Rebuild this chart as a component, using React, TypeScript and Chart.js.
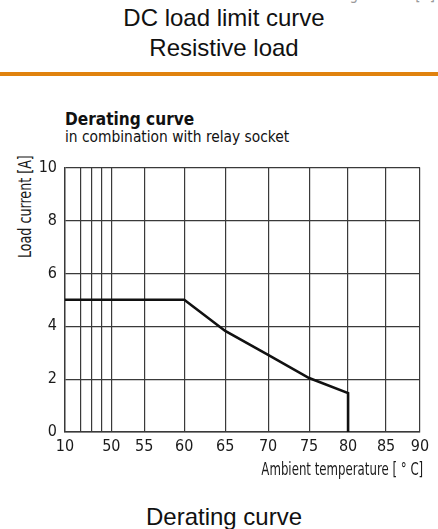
import React, { useEffect, useRef } from "react";
import { Chart, registerables } from "chart.js";

Chart.register(...registerables);

// ---- data ----
const xTickTemps = [10, 20, 30, 40, 50, 55, 60, 65, 70, 75, 80, 85, 90];
const xTickLabels = ["10", "", "", "", "50", "55", "60", "65", "70", "75", "80", "85", "90"];
const yTickValues = [0, 2, 4, 6, 8, 10];
const tempC = [10, 60, 65, 70, 75, 80, 80];
const loadA = [5, 5, 3.82, 2.92, 2.04, 1.47, 0];

// broken, hand-drawn x axis: 10..50 °C compressed at the left; stops where each
// grid temperature sits on the drawn axis (in degree-equivalent units)
const axisPos = [44, 46, 47.5, 48.8, 50, 54.27, 59.45, 64.76, 70.32, 75.63, 80.68, 85.6, 90];
function toAxis(t: number): number {
  for (let i = 0; i < xTickTemps.length - 1; i++) {
    const a = xTickTemps[i], b = xTickTemps[i + 1];
    if (t >= a && t <= b) {
      return axisPos[i] + ((t - a) / (b - a)) * (axisPos[i + 1] - axisPos[i]);
    }
  }
  return t;
}

const NARROW = "'Liberation Sans Narrow', 'DejaVu Sans Condensed', 'Roboto Condensed', 'Arial Narrow', sans-serif";
const GRID = "#3a3a3a";

export default function App() {
  const ref = useRef<HTMLCanvasElement | null>(null);

  useEffect(() => {
    if (!ref.current) return;
    const chart = new Chart(ref.current, {
      type: "line",
      data: {
        datasets: [
          {
            data: tempC.map((t, i) => ({ x: toAxis(t), y: loadA[i] })),
            borderColor: "#111",
            borderWidth: 2.6,
            pointRadius: 0,
            tension: 0,
            fill: false,
          },
        ],
      },
      options: {
        responsive: false,
        animation: false,
        devicePixelRatio: 1,
        layout: { padding: { left: 0, right: 18, top: 16, bottom: 0 } },
        plugins: { legend: { display: false }, tooltip: { enabled: false } },
        scales: {
          x: {
            type: "linear",
            min: axisPos[0],
            max: axisPos[axisPos.length - 1],
            afterBuildTicks: (s: any) => {
              s.ticks = axisPos.map((v) => ({ value: v }));
            },
            afterFit: (s: any) => {
              s.height = 48;
            },
            ticks: {
              autoSkip: false,
              maxRotation: 0,
              padding: 5,
              color: "#1a1a1a",
              font: { family: NARROW, size: 16 },
              callback: (_v: any, i: number) => xTickLabels[i],
            },
            grid: { color: GRID, lineWidth: 1.2, drawTicks: false },
            border: { color: GRID, width: 1.4 },
          },
          y: {
            type: "linear",
            min: 0,
            max: 10,
            afterBuildTicks: (s: any) => {
              s.ticks = yTickValues.map((v) => ({ value: v }));
            },
            afterFit: (s: any) => {
              s.width = 65;
            },
            ticks: {
              padding: 8,
              color: "#1a1a1a",
              font: { family: NARROW, size: 16 },
            },
            grid: { color: GRID, lineWidth: 1.2, drawTicks: false },
            border: { color: GRID, width: 1.4 },
          },
        },
      },
    });
    return () => chart.destroy();
  }, []);

  const base: React.CSSProperties = { position: "absolute", margin: 0, whiteSpace: "nowrap" };

  return (
    <div
      style={{
        position: "absolute",
        left: 0,
        top: 0,
        width: 438,
        height: 529,
        background: "#fff",
        overflow: "hidden",
        color: "#111",
      }}
    >
      <div
        style={{
          ...base,
          right: 3,
          top: -12,
          font: `15px ${NARROW}`,
          lineHeight: "15px",
          color: "#9a9a9a",
        }}
      >
        Switching current [A]
      </div>
      <div
        style={{
          ...base,
          left: 0,
          width: 448,
          top: 6,
          textAlign: "center",
          font: "24px 'Liberation Sans', Arial, sans-serif",
          lineHeight: "24px",
        }}
      >
        DC load limit curve
      </div>
      <div
        style={{
          ...base,
          left: 0,
          width: 448,
          top: 36,
          textAlign: "center",
          font: "24px 'Liberation Sans', Arial, sans-serif",
          lineHeight: "24px",
        }}
      >
        Resistive load
      </div>
      <div style={{ position: "absolute", left: 0, top: 72, width: 438, height: 4, background: "#E0820E" }} />
      <div
        style={{
          ...base,
          left: 65,
          top: 110,
          font: `bold 18px ${NARROW}`,
          lineHeight: "18px",
          transform: "scaleX(0.95)",
          transformOrigin: "0 0",
        }}
      >
        Derating curve
      </div>
      <div
        style={{
          ...base,
          left: 65,
          top: 129,
          font: `16px ${NARROW}`,
          lineHeight: "16px",
          transform: "scaleX(0.96)",
          transformOrigin: "0 0",
        }}
      >
        in combination with relay socket
      </div>
      <div
        style={{
          ...base,
          left: 17,
          top: 258,
          font: `17px ${NARROW}`,
          lineHeight: "17px",
          transform: "rotate(-90deg) scaleX(0.83)",
          transformOrigin: "0 0",
          color: "#1a1a1a",
        }}
      >
        Load current [A]
      </div>
      <canvas
        ref={ref}
        width={438}
        height={330}
        style={{ position: "absolute", left: 0, top: 150, width: 438, height: 330 }}
      />
      <div
        style={{
          ...base,
          right: 15,
          top: 461,
          font: `17px ${NARROW}`,
          lineHeight: "17px",
          transform: "scaleX(0.77)",
          transformOrigin: "100% 0",
          color: "#1a1a1a",
        }}
      >
        Ambient temperature [ ° C]
      </div>
      <div
        style={{
          ...base,
          left: 0,
          width: 448,
          top: 505,
          textAlign: "center",
          font: "24px 'Liberation Sans', Arial, sans-serif",
          lineHeight: "24px",
        }}
      >
        Derating curve
      </div>
    </div>
  );
}
